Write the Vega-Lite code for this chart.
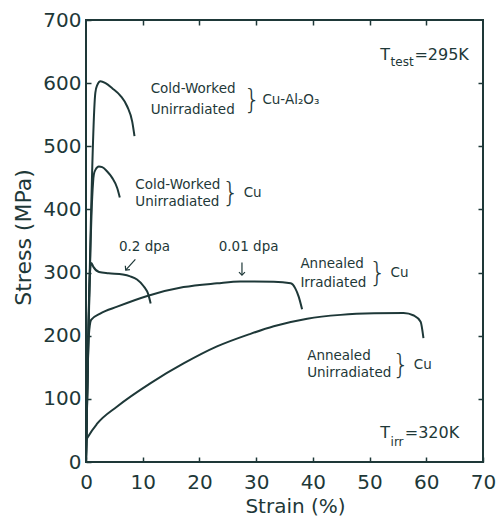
{
  "$schema": "https://vega.github.io/schema/vega-lite/v6.json",
  "width": 397,
  "height": 442,
  "autosize": {"type": "none"},
  "padding": {"left": 86, "top": 20, "right": 14, "bottom": 66},
  "background": "white",
  "config": {
    "view": {"stroke": "#1e3838", "strokeWidth": 2},
    "axis": {
      "domain": false,
      "grid": false,
      "tickColor": "#1e3838",
      "tickWidth": 1.5,
      "tickSize": -5,
      "labelFont": "DejaVu Sans",
      "labelFontSize": 20,
      "labelColor": "#1e3838",
      "labelFlush": false,
      "labelOverlap": false,
      "titleFont": "DejaVu Sans",
      "titleFontSize": 20,
      "titleFontWeight": "normal",
      "titleColor": "#1e3838"
    },
    "text": {"font": "DejaVu Sans", "color": "#1e3838"}
  },
  "datasets": {
    "curves": [
      {"s": "A", "x": 0, "y": 0}, {"s": "A", "x": 1.65, "y": 585}, {"s": "A", "x": 1.98, "y": 597}, {"s": "A", "x": 2.56, "y": 603}, {"s": "A", "x": 3.44, "y": 600}, {"s": "A", "x": 4.62, "y": 592}, {"s": "A", "x": 6.08, "y": 580}, {"s": "A", "x": 7.27, "y": 563}, {"s": "A", "x": 8.15, "y": 539}, {"s": "A", "x": 8.55, "y": 516},
      {"s": "B", "x": 0, "y": 0}, {"s": "B", "x": 1.1, "y": 420}, {"s": "B", "x": 1.38, "y": 455}, {"s": "B", "x": 1.68, "y": 463}, {"s": "B", "x": 2.26, "y": 468}, {"s": "B", "x": 2.86, "y": 467}, {"s": "B", "x": 3.74, "y": 460}, {"s": "B", "x": 4.62, "y": 450}, {"s": "B", "x": 5.5, "y": 434}, {"s": "B", "x": 5.96, "y": 419},
      {"s": "C", "x": 0, "y": 0}, {"s": "C", "x": 0.7, "y": 300}, {"s": "C", "x": 0.95, "y": 315}, {"s": "C", "x": 1.3, "y": 309}, {"s": "C", "x": 2.3, "y": 301}, {"s": "C", "x": 4.0, "y": 299}, {"s": "C", "x": 6.5, "y": 297}, {"s": "C", "x": 7.8, "y": 294}, {"s": "C", "x": 9.0, "y": 289}, {"s": "C", "x": 10.2, "y": 278}, {"s": "C", "x": 11.0, "y": 265}, {"s": "C", "x": 11.4, "y": 251},
      {"s": "D", "x": 0, "y": 0}, {"s": "D", "x": 0.5, "y": 200}, {"s": "D", "x": 0.9, "y": 225}, {"s": "D", "x": 2.5, "y": 235}, {"s": "D", "x": 5.5, "y": 246}, {"s": "D", "x": 10.8, "y": 263}, {"s": "D", "x": 17.2, "y": 277}, {"s": "D", "x": 23.1, "y": 283}, {"s": "D", "x": 27.2, "y": 286}, {"s": "D", "x": 33.1, "y": 285.5}, {"s": "D", "x": 36.1, "y": 283}, {"s": "D", "x": 36.9, "y": 275}, {"s": "D", "x": 37.5, "y": 262}, {"s": "D", "x": 38.1, "y": 242},
      {"s": "E", "x": 0, "y": 0}, {"s": "E", "x": 0.1, "y": 35}, {"s": "E", "x": 0.5, "y": 42}, {"s": "E", "x": 2.0, "y": 61}, {"s": "E", "x": 5.5, "y": 88}, {"s": "E", "x": 11.4, "y": 125}, {"s": "E", "x": 17.2, "y": 156}, {"s": "E", "x": 23.1, "y": 183}, {"s": "E", "x": 29.0, "y": 203}, {"s": "E", "x": 33.1, "y": 215}, {"s": "E", "x": 39.0, "y": 227}, {"s": "E", "x": 44.9, "y": 233}, {"s": "E", "x": 50.8, "y": 235.5}, {"s": "E", "x": 56.0, "y": 236}, {"s": "E", "x": 57.8, "y": 232}, {"s": "E", "x": 59.0, "y": 222}, {"s": "E", "x": 59.5, "y": 196}
    ],
    "labels": [
      {"x": 11.4, "y": 590, "t": "Cold-Worked"},
      {"x": 11.4, "y": 558, "t": "Unirradiated"},
      {"x": 31.1, "y": 574, "t": "Cu-Al₂O₃"},
      {"x": 8.7, "y": 439, "t": "Cold-Worked"},
      {"x": 8.7, "y": 412.5, "t": "Unirradiated"},
      {"x": 27.8, "y": 426, "t": "Cu"},
      {"x": 5.8, "y": 340, "t": "0.2 dpa"},
      {"x": 23.4, "y": 340, "t": "0.01 dpa"},
      {"x": 37.8, "y": 314, "t": "Annealed"},
      {"x": 37.8, "y": 284, "t": "Irradiated"},
      {"x": 53.7, "y": 300, "t": "Cu"},
      {"x": 39.0, "y": 168, "t": "Annealed"},
      {"x": 39.0, "y": 140.6, "t": "Unirradiated"},
      {"x": 57.8, "y": 154, "t": "Cu"}
    ],
    "braces": [
      {"x": 29.3, "y": 574, "t": "}"},
      {"x": 25.5, "y": 426, "t": "}"},
      {"x": 51.4, "y": 300, "t": "}"},
      {"x": 55.5, "y": 154, "t": "}"}
    ],
    "tmain": [
      {"x": 51.9, "y": 645, "t": "T"},
      {"x": 57.9, "y": 645, "t": "=295K"},
      {"x": 51.9, "y": 46, "t": "T"},
      {"x": 56.2, "y": 46, "t": "=320K"}
    ],
    "tsub": [
      {"x": 53.7, "y": 634, "t": "test"},
      {"x": 53.7, "y": 32, "t": "irr"}
    ],
    "arrows": [
      {"a": 1, "p": "tail", "x": 8.7, "y": 321},
      {"a": 1, "p": "tip", "x": 7.0, "y": 304},
      {"a": 2, "p": "tail", "x": 27.5, "y": 316},
      {"a": 2, "p": "tip", "x": 27.5, "y": 296}
    ]
  },
  "resolve": {"axis": {"x": "independent", "y": "independent"}},
  "layer": [
    {
      "data": {"name": "curves"},
      "mark": {"type": "line", "color": "#1e3838", "strokeWidth": 2, "interpolate": "monotone"},
      "encoding": {
        "x": {"field": "x", "type": "quantitative", "scale": {"domain": [0, 70], "nice": false},
          "axis": {"orient": "bottom", "values": [0, 10, 20, 30, 40, 50, 60, 70], "labelPadding": 15, "title": "Strain (%)", "titleX": 209, "titleY": 34, "titleBaseline": "top"}},
        "y": {"field": "y", "type": "quantitative", "scale": {"domain": [0, 700], "nice": false},
          "axis": {"orient": "left", "values": [0, 100, 200, 300, 400, 500, 600, 700], "labelPadding": 10, "title": "Stress (MPa)", "titleFontSize": 22, "titleX": -63, "titleY": 217, "titleBaseline": "middle", "titleAngle": 270}},
        "detail": {"field": "s"}
      }
    },
    {
      "data": {"name": "curves"},
      "mark": {"type": "point", "opacity": 0},
      "encoding": {
        "x": {"field": "x", "type": "quantitative", "axis": {"orient": "top", "values": [10, 20, 30, 40, 50, 60], "labels": false, "title": null}},
        "y": {"field": "y", "type": "quantitative", "axis": {"orient": "right", "values": [100, 200, 300, 400, 500, 600], "labels": false, "title": null}}
      }
    },
    {
      "data": {"name": "labels"},
      "mark": {"type": "text", "fontSize": 13.5, "align": "left", "baseline": "middle"},
      "encoding": {
        "x": {"field": "x", "type": "quantitative", "axis": null},
        "y": {"field": "y", "type": "quantitative", "axis": null},
        "text": {"field": "t"}
      }
    },
    {
      "data": {"name": "braces"},
      "mark": {"type": "text", "fontSize": 27, "fontWeight": 300, "align": "center", "baseline": "middle"},
      "encoding": {
        "x": {"field": "x", "type": "quantitative", "axis": null},
        "y": {"field": "y", "type": "quantitative", "axis": null},
        "text": {"field": "t"}
      }
    },
    {
      "data": {"name": "tmain"},
      "mark": {"type": "text", "fontSize": 16, "align": "left", "baseline": "middle"},
      "encoding": {
        "x": {"field": "x", "type": "quantitative", "axis": null},
        "y": {"field": "y", "type": "quantitative", "axis": null},
        "text": {"field": "t"}
      }
    },
    {
      "data": {"name": "tsub"},
      "mark": {"type": "text", "fontSize": 12, "align": "left", "baseline": "middle"},
      "encoding": {
        "x": {"field": "x", "type": "quantitative", "axis": null},
        "y": {"field": "y", "type": "quantitative", "axis": null},
        "text": {"field": "t"}
      }
    },
    {
      "data": {"name": "arrows"},
      "mark": {"type": "line", "color": "#1e3838", "strokeWidth": 1.2},
      "encoding": {
        "x": {"field": "x", "type": "quantitative", "axis": null},
        "y": {"field": "y", "type": "quantitative", "axis": null},
        "detail": {"field": "a"}
      }
    },
    {
      "data": {"name": "arrows"},
      "transform": [{"filter": "datum.p === 'tip' && datum.a === 1"}],
      "mark": {"type": "point", "shape": "M-1,-1L0,0L1,-1", "filled": false, "size": 36, "angle": 40, "stroke": "#1e3838", "strokeWidth": 1.2, "opacity": 1},
      "encoding": {
        "x": {"field": "x", "type": "quantitative", "axis": null},
        "y": {"field": "y", "type": "quantitative", "axis": null}
      }
    },
    {
      "data": {"name": "arrows"},
      "transform": [{"filter": "datum.p === 'tip' && datum.a === 2"}],
      "mark": {"type": "point", "shape": "M-1,-1L0,0L1,-1", "filled": false, "size": 36, "angle": 0, "stroke": "#1e3838", "strokeWidth": 1.2, "opacity": 1},
      "encoding": {
        "x": {"field": "x", "type": "quantitative", "axis": null},
        "y": {"field": "y", "type": "quantitative", "axis": null}
      }
    }
  ]
}
